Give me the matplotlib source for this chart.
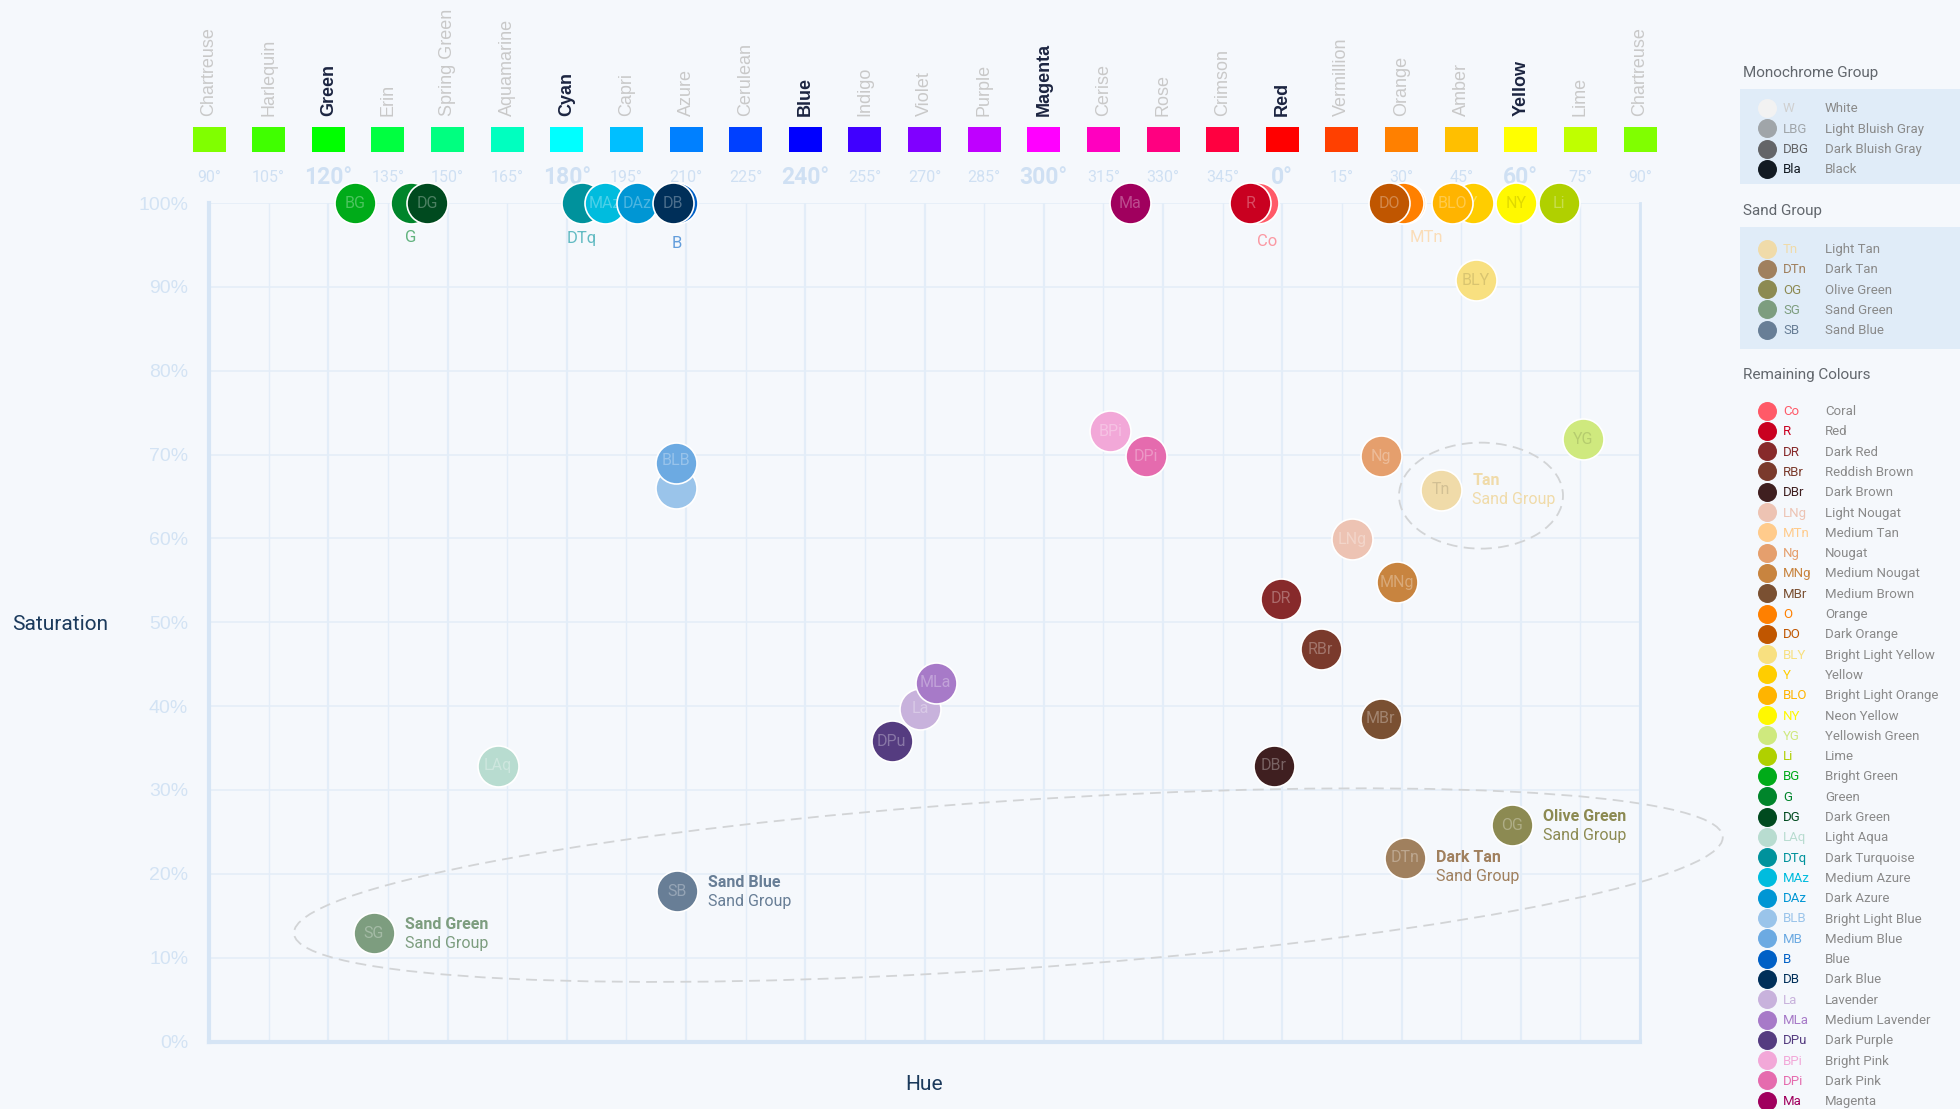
import matplotlib
matplotlib.use("Agg")
import matplotlib.pyplot as plt
from matplotlib.patches import Ellipse, Rectangle
from matplotlib.transforms import IdentityTransform, ScaledTranslation

plt.rcParams['font.family'] = ['Roboto', 'DejaVu Sans']

# ---------------- data ----------------
hue_names = ["Chartreuse", "Harlequin", "Green", "Erin", "Spring Green", "Aquamarine", "Cyan",
             "Capri", "Azure", "Cerulean", "Blue", "Indigo", "Violet", "Purple", "Magenta",
             "Cerise", "Rose", "Crimson", "Red", "Vermillion", "Orange", "Amber", "Yellow",
             "Lime", "Chartreuse"]
hue_degrees = [90, 105, 120, 135, 150, 165, 180, 195, 210, 225, 240, 255, 270, 285, 300,
               315, 330, 345, 0, 15, 30, 45, 60, 75, 90]
hue_swatches = ["#80ff00", "#40ff00", "#00ff00", "#00ff40", "#00ff80", "#00ffbf", "#00ffff",
                "#00bfff", "#0080ff", "#0040ff", "#0000ff", "#4000ff", "#8000ff", "#bf00ff",
                "#ff00ff", "#ff00bf", "#ff0080", "#ff0040", "#ff0000", "#ff4000", "#ff8000",
                "#ffbf00", "#ffff00", "#bfff00", "#80ff00"]
primary_hues = ["Green", "Cyan", "Blue", "Magenta", "Red", "Yellow"]
sat_ticks = [0, 10, 20, 30, 40, 50, 60, 70, 80, 90, 100]

mono_abbr = ["W", "LBG", "DBG", "Bla"]
mono_names = ["White", "Light Bluish Gray", "Dark Bluish Gray", "Black"]
mono_colors = ["#f2f2f2", "#a0a5a9", "#646568", "#121a22"]

sand_abbr = ["Tn", "DTn", "OG", "SG", "SB"]
sand_names = ["Light Tan", "Dark Tan", "Olive Green", "Sand Green", "Sand Blue"]
sand_callout = ["Tan", "Dark Tan", "Olive Green", "Sand Green", "Sand Blue"]
sand_colors = ["#f0dba9", "#a0805e", "#8c8a52", "#7d9d7f", "#687e96"]
sand_hue = [40.0, 30.9, 57.8, 131.5, 207.7]
sand_sat = [65.8, 21.9, 25.8, 12.9, 17.9]

rest_abbr = ["Co", "R", "DR", "RBr", "DBr", "LNg", "MTn", "Ng", "MNg", "MBr", "O", "DO", "BLY",
             "Y", "BLO", "NY", "YG", "Li", "BG", "G", "DG", "LAq", "DTq", "MAz", "DAz", "BLB",
             "MB", "B", "DB", "La", "MLa", "DPu", "BPi", "DPi", "Ma"]
rest_names = ["Coral", "Red", "Dark Red", "Reddish Brown", "Dark Brown", "Light Nougat",
              "Medium Tan", "Nougat", "Medium Nougat", "Medium Brown", "Orange", "Dark Orange",
              "Bright Light Yellow", "Yellow", "Bright Light Orange", "Neon Yellow",
              "Yellowish Green", "Lime", "Bright Green", "Green", "Dark Green", "Light Aqua",
              "Dark Turquoise", "Medium Azure", "Dark Azure", "Bright Light Blue", "Medium Blue",
              "Blue", "Dark Blue", "Lavender", "Medium Lavender", "Dark Purple", "Bright Pink",
              "Dark Pink", "Magenta"]
rest_colors = ["#ff5a68", "#c90020", "#872a2b", "#7a3a2c", "#3f1f20", "#edc3b3", "#ffcb8c",
               "#e59f6d", "#c8843f", "#7a5032", "#ff8000", "#c05600", "#f8e080", "#ffcd00",
               "#ffb400", "#fff800", "#cfe97e", "#b0d000", "#00ab19", "#00852b", "#004a1f",
               "#b8dcd0", "#00929c", "#00bcde", "#0096d4", "#9ac4ea", "#6caae2", "#0060c6",
               "#002f59", "#c8b2dc", "#a77ac8", "#553c80", "#f2a8d8", "#e56bae", "#a0005e"]
rest_hue = [353.8, 352.0, 359.7, 9.7, 357.8, 17.6, 31.0, 24.8, 28.8, 24.8, 30.3, 26.9, 48.7,
            48.0, 42.7, 58.8, 75.7, 69.6, 126.7, 140.8, 144.8, 162.6, 183.8, 189.6, 197.6,
            207.5, 207.5, 207.7, 206.8, 268.9, 272.8, 261.7, 316.7, 325.8, 321.7]
rest_sat = [100, 100, 52.8, 46.8, 32.9, 59.9, 100, 69.8, 54.8, 38.5, 100, 100, 90.8, 100, 100,
            100, 71.8, 100, 100, 100, 100, 32.9, 100, 100, 100, 66.0, 69.0, 100, 100, 39.7,
            42.8, 35.8, 72.8, 69.8, 100]

# ---------------- style ----------------
BG = "#f5f8fc"
GRID = "#e3edf8"
SPINE = "#d6e5f5"
TICK = "#d3e3f4"
NAVY = "#1b3a5c"

W, H = 1960, 1109
fig = plt.figure(figsize=(W / 100, H / 100), dpi=100, facecolor=BG)

# pixel overlay for free text / legend
lax = fig.add_axes([0, 0, 1, 1], zorder=0)
lax.set_xlim(0, W)
lax.set_ylim(H, 0)
lax.axis("off")

L, R_, T, B_ = 209, 1640, 203, 1041.5
ax = fig.add_axes([L / W, (H - B_) / H, (R_ - L) / W, (B_ - T) / H], zorder=1)
ax.set_facecolor(BG)
ax.set_xlim(90, 450)
ax.set_ylim(0, 100)
PXDEG = (R_ - L) / 360.0


def hx(h):
    return h if h >= 90 else h + 360


def yf(py):
    return (B_ - py) / (B_ - T)


# grid
for i, d in enumerate(hue_degrees):
    xv = 90 + 15 * i
    ax.axvline(xv, color=GRID, lw=1.6 if i % 2 == 0 else 1.0, zorder=0.5)
for s in sat_ticks:
    ax.axhline(s, color=GRID, lw=1.1, zorder=0.5)
ax.spines["top"].set_visible(False)
ax.spines["left"].set_color(SPINE)
ax.spines["left"].set_linewidth(3)
ax.spines["bottom"].set_color(SPINE)
ax.spines["bottom"].set_linewidth(3)
ax.spines["right"].set_color(SPINE)
ax.spines["right"].set_linewidth(2)

ax.set_xticks([])
ax.set_yticks(sat_ticks)
ax.set_yticklabels([f"{v}%" for v in sat_ticks], fontfamily="Liberation Sans", fontsize=14,
                   color=TICK)
ax.tick_params(axis="y", length=0, pad=15)

# hue ruler on top
xt = ax.get_xaxis_transform()
for i, (nm, d, sw) in enumerate(zip(hue_names, hue_degrees, hue_swatches)):
    xv = 90 + 15 * i
    prim = nm in primary_hues
    ax.text(xv, yf(116), nm, rotation=90, ha="center", va="bottom", transform=xt,
            fontfamily="Liberation Sans", fontsize=13, fontweight="bold" if prim else "normal",
            color="#1c2541" if prim else "#c9c9c9", clip_on=False)
    ax.add_patch(Rectangle((xv - 33 / PXDEG / 2, yf(152)), 33 / PXDEG, 25 / (B_ - T),
                           transform=xt, facecolor=sw, lw=0, clip_on=False))
    ax.text(xv, yf(177), f"{d}°", ha="center", va="center", transform=xt,
            fontsize=16.5 if prim else 11.5, fontweight="bold" if prim else "normal",
            color="#cfe0f3", clip_on=False)

# ---------------- points ----------------
PX = 0.72  # points per pixel
S = (41 * PX) ** 2


def lum(c):
    r, g, b = matplotlib.colors.to_rgb(c)
    return 0.2126 * r + 0.7152 * g + 0.0722 * b


below = {"G": (0, -35), "DTq": (0, -35), "B": (0, -40), "Co": (10, -38), "MTn": (21, -34)}
moved = {"BLB": (0, 28)}
hidden = ["MB"]

z = 2
all_abbr = sand_abbr + rest_abbr
all_col = sand_colors + rest_colors
all_h = sand_hue + rest_hue
all_s = sand_sat + rest_sat
for a, c, h, s in zip(all_abbr, all_col, all_h, all_s):
    x = hx(h)
    ax.scatter([x], [s], s=S, color=c, edgecolor="white", linewidth=1.2, zorder=z,
               clip_on=False)
    tc = (0, 0, 0, 0.12) if lum(c) > 0.85 else (1, 1, 1, 0.3)
    if a in below:
        dx, dy = below[a]
        ax.annotate(a, (x, s), xytext=(dx * PX, dy * PX), textcoords="offset points",
                    ha="center", va="center", fontsize=12,
                    color=matplotlib.colors.to_rgba(c, 0.6), zorder=200,
                    annotation_clip=False)
    elif a in moved:
        dx, dy = moved[a]
        ax.annotate(a, (x, s), xytext=(dx * PX, dy * PX), textcoords="offset points",
                    ha="center", va="center", fontsize=11.5, color=tc, zorder=200,
                    annotation_clip=False)
    elif a not in hidden:
        ax.annotate(a, (x, s), xytext=(0, 0), textcoords="offset points", ha="center",
                    va="center", fontsize=11.5, color=tc, zorder=z + 0.5,
                    annotation_clip=False)
    z += 1

# sand call-outs
for a, nm, c, h, s in zip(sand_abbr, sand_callout, sand_colors, sand_hue, sand_sat):
    x = hx(h)
    up, dn = (0, -19) if a == "DTn" else (9, -10)
    ax.annotate(nm, (x, s), xytext=(31 * PX, up * PX), textcoords="offset points", ha="left",
                va="center", fontsize=11.5, fontweight="bold", color=c, zorder=150,
                annotation_clip=False)
    ax.annotate("Sand Group", (x, s), xytext=(31 * PX, dn * PX), textcoords="offset points",
                ha="left", va="center", fontsize=11.5, color=c, zorder=150,
                annotation_clip=False)

# dashed group ellipses (centre in data units, size in pixels)
for (cx, cy, w, hgt, ang) in [(291.1, 18.65, 1432, 168, 3.88), (410.0, 65.1, 164, 106, 0)]:
    tr = IdentityTransform() + ScaledTranslation(cx, cy, ax.transData)
    ax.add_patch(Ellipse((0, 0), w, hgt, angle=ang, transform=tr, fill=False,
                         edgecolor="#d2d4d6", lw=1.3, linestyle=(0, (6, 3.5)), zorder=1.5,
                         clip_on=False))

# axis titles
lax.text(12, 624, "Saturation", ha="left", va="center", fontsize=15, color=NAVY)
lax.text(924.5, 1084, "Hue", ha="center", va="center", fontsize=15, color=NAVY)

# ---------------- legend ----------------
LEG_X = 1740
BOX = "#e0ecf8"


def block(title, ty, abbrs, names, colors, y0, box=None):
    lax.text(1743, ty, title, ha="left", va="center", fontsize=11, color="#62676d")
    if box:
        lax.add_patch(Rectangle((LEG_X, box[0]), W - LEG_X, box[1] - box[0], facecolor=BOX,
                                lw=0, zorder=1))
    for i, (a, n, c) in enumerate(zip(abbrs, names, colors)):
        y = y0 + 20.3 * i
        lax.scatter([1767], [y], s=(19 * PX) ** 2, color=c, lw=0, zorder=3)
        ac = "#d0d0d0" if a == "W" else c
        lax.text(1783, y + 1, a, ha="left", va="center", fontsize=9.5, color=ac, zorder=3)
        lax.text(1825, y + 1, n, ha="left", va="center", fontsize=9.5, color="#8a8a8a",
                 zorder=3)


block("Monochrome Group", 73.5, mono_abbr, mono_names, mono_colors, 108, box=(89, 184))
block("Sand Group", 210.5, sand_abbr, sand_names, sand_colors, 248.5, box=(227, 349))
block("Remaining Colours", 375.5, rest_abbr, rest_names, rest_colors, 410.5)

fig.savefig("out.png", dpi=100, facecolor=BG)
